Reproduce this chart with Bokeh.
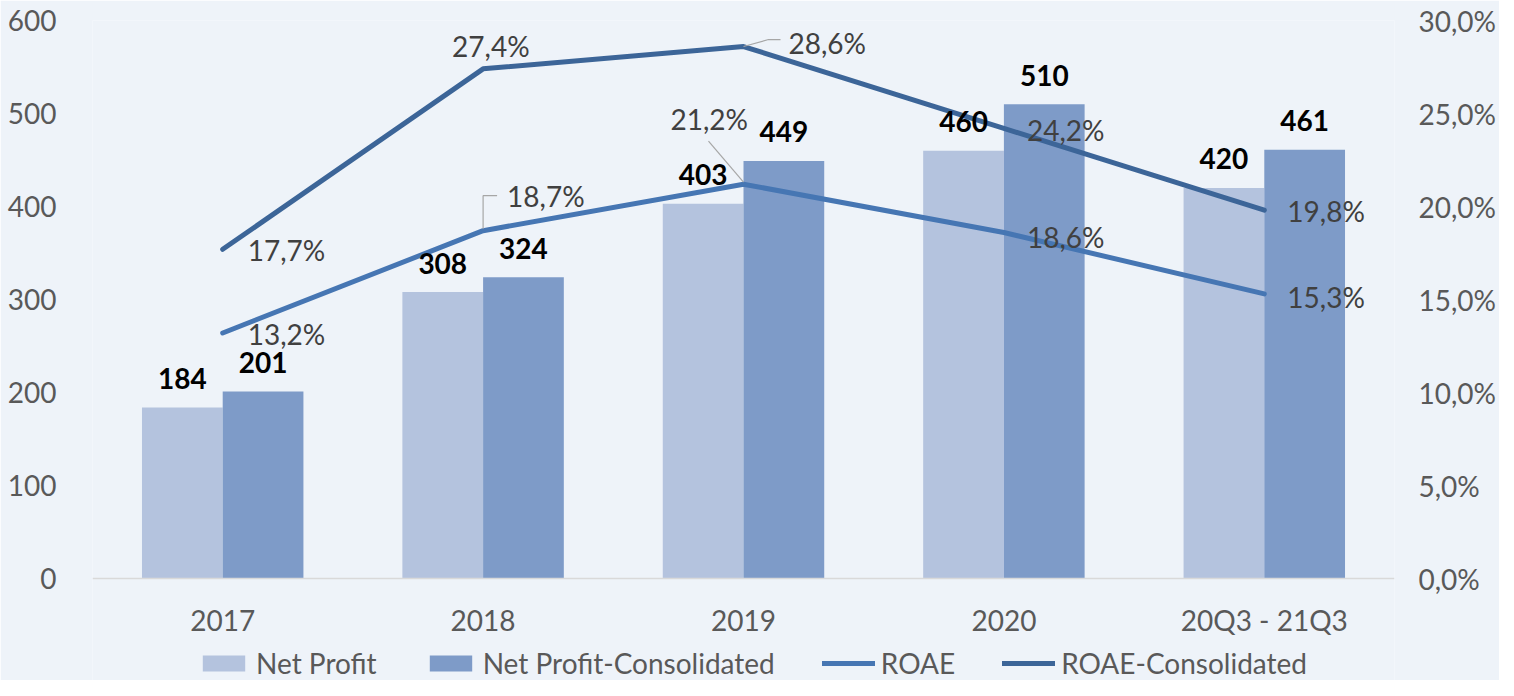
import numpy as np
from bokeh.plotting import figure
from bokeh.models import (Range1d, LinearAxis, FixedTicker, CustomJSTickFormatter,
                          Legend, LegendItem, ColumnDataSource)
from bokeh.core.properties import value
from bokeh.embed import file_html
from bokeh.resources import INLINE

# ---- data ----
categories = ["2017", "2018", "2019", "2020", "20Q3 - 21Q3"]
net_profit = [184, 308, 403, 460, 420]
net_profit_cons = [201, 324, 449, 510, 461]
roae = [13.2, 18.7, 21.2, 18.6, 15.3]
roae_cons = [17.7, 27.4, 28.6, 24.2, 19.8]
left_ticks = [0, 100, 200, 300, 400, 500, 600]
right_ticks = [0, 5, 10, 15, 20, 25, 30]

# ---- style ----
BG = "#eef3f9"
LIGHT = "#b4c3de"
DARK = "#7e9bc8"
ROAE_C = "#4676b3"
ROAEC_C = "#3c6598"
FONT_NAME = "Lato"
FONT = value(FONT_NAME)
FRAME_W = 1302
PLOT_H = 558        # height of the 0..600 data area
EXTRA_H = 102       # space below zero for category labels and legend
BAR_W = 0.31

# label offsets in screen px (dx, dy) relative to point; leader polylines in px
roae_off = [(25, 1), (24, -35), (-73, -65), (23, 4), (23, 3)]
roaec_off = [(25, 1), (-31, -23), (45, -4), (23, 2), (23, 1)]
leaders = [  # (series, index, list of px points)
    ("roae", 1, [(0, -2), (0, -35), (14, -35)]),
    ("roae", 2, [(0, -2), (-35, -43)]),
    ("cons", 2, [(0, 0), (25, -7), (37, -7)]),
]

n = len(categories)
idx = np.arange(n)
px_x = FRAME_W / n          # px per category unit
px_y = PLOT_H / 30.0        # px per percent

p = figure(frame_width=FRAME_W, frame_height=PLOT_H + EXTRA_H,
           x_range=Range1d(-0.5, n - 0.5),
           y_range=Range1d(-600 * EXTRA_H / PLOT_H, 600),
           output_backend="svg", toolbar_location=None,
           min_border_left=92, min_border_right=104, min_border_top=20, min_border_bottom=0,
           background_fill_color=BG, border_fill_color=BG, outline_line_color=None)
p.extra_y_ranges = {"pct": Range1d(-30 * EXTRA_H / PLOT_H, 30)}
p.xgrid.visible = False
p.ygrid.visible = False

# axes
xa = p.xaxis[0]
xa.fixed_location = 0
xa.ticker = FixedTicker(ticks=list(idx))
xa.major_label_overrides = {int(i): c for i, c in zip(idx, categories)}
xa.axis_line_color = "#d9d9d9"
xa.axis_line_width = 1.5
xa.major_tick_line_color = None
xa.minor_tick_line_color = None
xa.major_label_standoff = 18
xa.major_label_text_font = FONT_NAME
xa.major_label_text_font_size = "28px"
xa.major_label_text_color = "#595959"

ya = p.yaxis[0]
ya.ticker = FixedTicker(ticks=left_ticks)
ya.axis_line_color = None
ya.major_tick_line_color = None
ya.minor_tick_line_color = None
ya.major_label_standoff = 30
ya.major_label_text_font = FONT_NAME
ya.major_label_text_font_size = "28px"
ya.major_label_text_color = "#595959"

ra = LinearAxis(y_range_name="pct", ticker=FixedTicker(ticks=right_ticks),
                formatter=CustomJSTickFormatter(code="return tick.toFixed(1).replace('.', ',') + '%';"))
ra.axis_line_color = None
ra.major_tick_line_color = None
ra.minor_tick_line_color = None
ra.major_label_standoff = 18
ra.major_label_text_font = FONT_NAME
ra.major_label_text_font_size = "28px"
ra.major_label_text_color = "#595959"
p.add_layout(ra, "right")

# bars
r1 = p.vbar(x=idx - BAR_W / 2, top=net_profit, width=BAR_W, fill_color=LIGHT, line_color=None)
r2 = p.vbar(x=idx + BAR_W / 2, top=net_profit_cons, width=BAR_W, fill_color=DARK, line_color=None)

# lines
r3 = p.line(x=idx, y=roae, y_range_name="pct", line_color=ROAE_C, line_width=5,
            line_join="round", line_cap="round")
r4 = p.line(x=idx, y=roae_cons, y_range_name="pct", line_color=ROAEC_C, line_width=5,
            line_join="round", line_cap="round")

# leader lines
xs, ys = [], []
for series, i, pts in leaders:
    base = roae[i] if series == "roae" else roae_cons[i]
    xs.append([idx[i] + dx / px_x for dx, dy in pts])
    ys.append([base - dy / px_y for dx, dy in pts])
p.multi_line(xs=xs, ys=ys, y_range_name="pct", line_color="#a6a6a6", line_width=1.2)

# percent labels
def fmt(v):
    return f"{v:.1f}".replace(".", ",") + "%"

for vals, offs in ((roae, roae_off), (roae_cons, roaec_off)):
    src = ColumnDataSource(dict(x=idx, y=vals, t=[fmt(v) for v in vals],
                                dx=[o[0] for o in offs], dy=[o[1] for o in offs]))
    p.text(x="x", y="y", text="t", source=src, y_range_name="pct",
           x_offset="dx", y_offset="dy", text_align="left", text_baseline="middle",
           text_font=FONT, text_font_size="28px", text_color="#404040")

# bar value labels
for xoff, vals in ((-BAR_W / 2, net_profit), (BAR_W / 2, net_profit_cons)):
    src = ColumnDataSource(dict(x=idx + xoff, y=vals, t=[str(v) for v in vals]))
    p.text(x="x", y="y", text="t", source=src, y_offset=-29,
           text_align="center", text_baseline="middle",
           text_font=FONT, text_font_size="28px", text_font_style="bold", text_color="#000000")

legend = Legend(items=[LegendItem(label="Net Profit", renderers=[r1]),
                       LegendItem(label="Net Profit-Consolidated", renderers=[r2]),
                       LegendItem(label="ROAE", renderers=[r3]),
                       LegendItem(label="ROAE-Consolidated", renderers=[r4])],
                location=(105, 0), orientation="horizontal",
                glyph_width=53, glyph_height=20, label_standoff=6, spacing=47,
                padding=0, margin=0, background_fill_alpha=0, border_line_alpha=0,
                label_text_font=FONT_NAME, label_text_font_size="28px", label_text_color="#595959")
p.add_layout(legend)

open("out.html", "w").write(file_html(p, INLINE))
